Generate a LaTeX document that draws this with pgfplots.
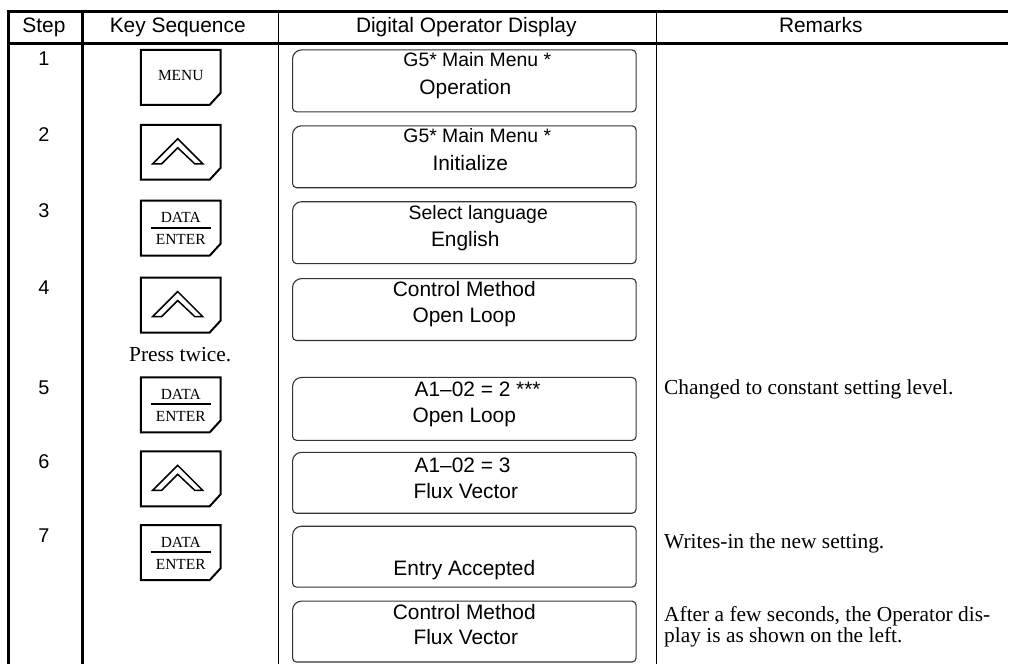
\documentclass[border=0pt]{standalone}
\usepackage{pgfplots}
\pgfplotsset{compat=1.18}
\usepackage{fontspec}
\setmainfont{Liberation Serif}
\newfontfamily\sansf{Liberation Sans}
\newcommand\fs[1]{\fontsize{#1}{#1}\selectfont}
\newcommand\keybox[1]{%
 \draw[black, line width=2bp, line join=miter, fill=white] (axis cs:141,#1) -- ++(80bp,0) -- ++(0,-43bp) -- ++(-11bp,-12bp) -- ++(-69bp,0) -- cycle;}
\newcommand\upkey[1]{\keybox{#1}%
 \draw[black, line width=1.5bp, line join=miter] (axis cs:178,#1) ++(-25bp,-39bp) -- ++(25bp,25bp) -- ++(25bp,-25bp) -- ++(-8bp,0) -- ++(-17bp,16bp) -- ++(-16bp,-16bp) -- cycle;}
\newcommand\datakey[1]{\keybox{#1}%
 \draw[black, line width=2bp] (axis cs:151,#1) ++(0,-27bp) -- ++(60bp,0);
 \path (axis cs:181,#1) ++(0,-22bp) node[anchor=base, inner sep=0, font=\fs{15.5}]{DATA};
 \path (axis cs:181,#1) ++(0,-44bp) node[anchor=base, inner sep=0, font=\fs{15.5}]{ENTER};}
\newcommand\disp[2]{%
 \draw[black!80, line width=1.1bp] (axis cs:465,#1) [rounded corners=4bp] -- ++(172bp,0) -- ++(0,-#2bp) -- ++(-344bp,0) [rounded corners=9bp] -- ++(0,#2bp) -- ++(172bp,0);}
\newcommand\st[2]{\node[anchor=base, inner sep=0, font=\sansf\fs{20}] at (axis cs:44,#1) {#2};}
\newcommand\dt[3]{\node[anchor=base, inner sep=0, font=\sansf\fs{21}] at (axis cs:#1,#2) {#3};}
\newcommand\ds[3]{\node[anchor=base, inner sep=0, font=\sansf\fs{19.5}] at (axis cs:#1,#2) {#3};}
\newcommand\dtl[3]{\node[anchor=base west, inner sep=0, font=\sansf\fs{21}] at (axis cs:#1,#2) {#3};}
\newcommand\rmk[2]{\node[anchor=base west, inner sep=0, font=\fs{21.5}] at (axis cs:665,#1) {#2};}
\begin{document}
\begin{tikzpicture}
\begin{axis}[
  width=1009bp, height=665bp, scale only axis,
  xmin=0, xmax=1009, ymin=0, ymax=665, y dir=reverse,
  enlargelimits=false, hide axis, clip=false]
\path (axis cs:0,0) rectangle (axis cs:1009,665);
% table rules
\addplot[black, line width=3bp] coordinates {(7,11.5) (1009,11.5)};
\addplot[black, line width=3bp] coordinates {(7,43.5) (1009,43.5)};
\addplot[black, line width=3bp] coordinates {(8.5,10) (8.5,665)};
\addplot[black, line width=3bp] coordinates {(82.5,10) (82.5,665)};
\addplot[black, line width=1.2bp] coordinates {(279,10) (279,665)};
\addplot[black, line width=1.2bp] coordinates {(657.5,10) (657.5,665)};
% header
\node[anchor=base, inner sep=0, font=\sansf\fs{21}] at (axis cs:44,33) {Step};
\node[anchor=base, inner sep=0, font=\sansf\fs{21}] at (axis cs:178,33) {Key Sequence};
\node[anchor=base, inner sep=0, font=\sansf\fs{21}] at (axis cs:467,33) {Digital Operator Display};
\node[anchor=base, inner sep=0, font=\sansf\fs{21}] at (axis cs:822,33) {Remarks};
% step numbers
\st{66}{1}\st{142}{2}\st{218}{3}\st{295}{4}\st{395}{5}\st{469}{6}\st{543}{7}
% keys
\keybox{50}
\node[anchor=base, inner sep=0, font=\fs{15.5}] at (axis cs:181,81) {MENU};
\upkey{125}
\datakey{201}
\upkey{278}
\node[anchor=base, inner sep=0, font=\fs{21.5}] at (axis cs:180.5,362) {Press twice.};
\datakey{378}
\upkey{452}
\datakey{526}
% displays
\disp{50}{62}\disp{126}{62}\disp{202}{62}\disp{279}{62}
\disp{378}{63}\disp{453}{61}\disp{527}{61}\disp{602}{61}
\ds{478}{67}{G5* Main Menu *}\dt{466}{95}{Operation}
\ds{478}{143}{G5* Main Menu *}\dt{471}{171}{Initialize}
\ds{479}{220}{Select language}\dt{466}{247}{English}
\dt{465}{297}{Control Method}\dt{465}{323}{Open Loop}
\dtl{415}{397}{A1–02 = 2 ***}\dt{465}{423}{Open Loop}
\dtl{415}{473}{A1–02 = 3}\dt{466.5}{499}{Flux Vector}
\dt{465}{576}{Entry Accepted}
\dt{465}{620}{Control Method}\dt{466.5}{645}{Flux Vector}
% remarks
\rmk{395}{Changed to constant setting level.}
\rmk{549}{Writes-in the new setting.}
\rmk{622}{After a few seconds, the Operator dis-}
\rmk{643}{play is as shown on the left.}
\end{axis}
\end{tikzpicture}
\end{document}
